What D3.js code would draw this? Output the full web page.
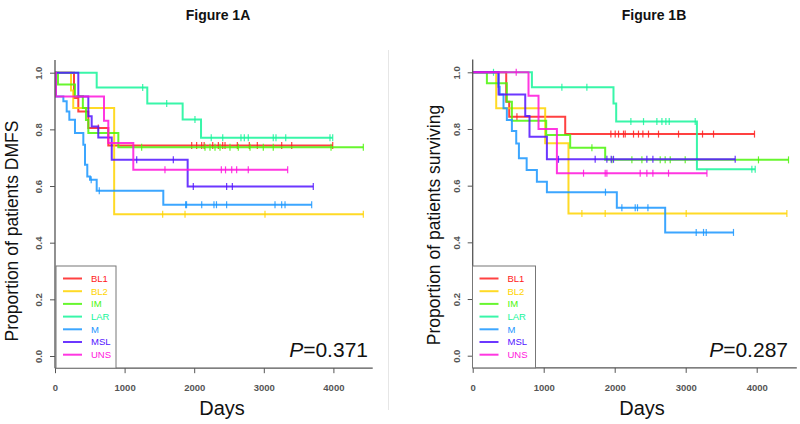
<!DOCTYPE html>
<html>
<head>
<meta charset="utf-8">
<script src="https://cdn.jsdelivr.net/npm/d3@7"></script>
<style>
  body { margin: 0; background: #fff; }
  svg { display: block; font-family: "Liberation Sans", Arial, sans-serif; }
</style>
</head>
<body>
<svg id="chart" width="800" height="424"></svg>
<script>
// subtypes and their colours (R rainbow(7))
const groups = ["BL1", "BL2", "IM", "LAR", "M", "MSL", "UNS"];
const colors = ["#ff2020", "#ffd400", "#4cf50a", "#16f59a", "#1a96ff", "#5214ff", "#ff14dc"];
const xTicks = [0, 1000, 2000, 3000, 4000];
const yTicks = [0, 0.2, 0.4, 0.6, 0.8, 1.0];

// Figure 1A - DMFS: [day, survival] steps and censored days
const aBL1 = [[0, 1], [273, 0.911], [335, 0.863], [479, 0.805], [766, 0.743]];
const aBL1Cens = [622, 1964, 2035, 2107, 2143, 2266, 2347, 2409, 2443, 2620, 2792, 2907, 3257, 3401, 3990];
const aBL2 = [[0, 1], [230, 0.9375], [262, 0.875], [850, 0.5]];
const aBL2Cens = [1547, 1868, 3017, 4430];
const aIM = [[0, 1], [43, 0.958], [287, 0.917], [400, 0.875], [445, 0.833], [479, 0.787], [910, 0.737]];
const aIMCens = [1245, 2155, 2227, 2299, 2371, 2514, 2634, 2802, 2993, 3136, 3966, 4430];
const aLAR = [[0, 1], [599, 0.948], [1326, 0.891], [1834, 0.835], [2098, 0.770]];
const aLARCens = [1260, 1605, 2011, 2245, 2410, 2672, 2720, 2777, 3136, 3175, 3315, 3951, 3990];
const aM = [[0, 1], [14, 0.916], [120, 0.899], [168, 0.863], [206, 0.834], [287, 0.787], [407, 0.746],
            [431, 0.675], [464, 0.634], [503, 0.622], [599, 0.583], [1556, 0.534]];
const aMCens = [520, 636, 1877, 1890, 2108, 2284, 2320, 2466, 3161, 3257, 3305, 3688];
const aMSL = [[0, 1], [335, 0.916], [479, 0.846], [527, 0.81], [622, 0.771], [815, 0.693], [1906, 0.598]];
const aMSLCens = [1174, 1700, 1987, 2466, 2548, 3711];
const aUNS = [[0, 1], [14, 0.916], [704, 0.83], [766, 0.752], [1125, 0.657]];
const aUNSCens = [1580, 2390, 2450, 2539, 2610, 2777, 3343];

// Figure 1B - overall survival
const bBL1 = [[0, 1], [472, 0.896], [514, 0.843], [1303, 0.782]];
const bBL1Cens = [623, 1946, 2007, 2054, 2124, 2148, 2265, 2335, 2397, 2476, 2617, 2899, 3237, 3392, 3969];
const bBL2 = [[0, 1], [331, 0.873], [1021, 0.75], [1349, 0.502]];
const bBL2Cens = [1538, 1866, 3007, 4425];
const bIM = [[0, 1], [200, 0.961], [481, 0.896], [552, 0.829], [1035, 0.779], [1373, 0.734], [1866, 0.691]];
const bIMCens = [1679, 1961, 2242, 2383, 2641, 2711, 2782, 2993, 4025, 4448];
const bLAR = [[0, 1], [834, 0.947], [1983, 0.89], [2021, 0.826], [3158, 0.658]];
const bLARCens = [293, 1256, 1608, 2228, 2406, 2594, 2665, 2721, 2768, 3134, 3932, 3979];
const bM = [[0, 1], [363, 0.949], [380, 0.922], [434, 0.873], [481, 0.832], [552, 0.793], [613, 0.749],
            [651, 0.697], [760, 0.655], [904, 0.614], [1045, 0.577], [2030, 0.522], [2711, 0.435]];
const bMCens = [1870, 2101, 2289, 2321, 2468, 3148, 3251, 3289, 3673];
const bMSL = [[0, 1], [364, 0.922], [740, 0.846], [800, 0.773], [1045, 0.693]];
const bMSLCens = [1208, 1725, 1890, 1951, 1983, 2453, 2538, 3697];
const bUNS = [[0, 1], [786, 0.917], [927, 0.80], [1186, 0.644]];
const bUNSCens = [613, 1561, 1866, 1890, 2359, 2453, 2538, 2758, 3299];

const panels = [
  { title: "Figure 1A", titleX: 218, ylab: "Proportion of patients DMFS", pval: "0.371",
    xr: [55, 333.4], yr: [356, 72.7], ylabX: 12, ylabY: 231, daysX: 222, pX: 368,
    leg: { x: 56, w: 60, top: 266 },
    curves: [aBL1, aBL2, aIM, aLAR, aM, aMSL, aUNS],
    cens: [aBL1Cens, aBL2Cens, aIMCens, aLARCens, aMCens, aMSLCens, aUNSCens] },
  { title: "Figure 1B", titleX: 654, ylab: "Proportion of patients surviving", pval: "0.287",
    xr: [472.7, 756.7], yr: [355.7, 72.3], ylabX: 434, ylabY: 225, daysX: 642, pX: 788,
    leg: { x: 472.5, w: 63, top: 266 },
    curves: [bBL1, bBL2, bIM, bLAR, bM, bMSL, bUNS],
    cens: [bBL1Cens, bBL2Cens, bIMCens, bLARCens, bMCens, bMSLCens, bUNSCens] }
];

const svg = d3.select("#chart");

// faint divider between the two figure images
svg.append("line").attr("x1", 388.5).attr("x2", 388.5).attr("y1", 50).attr("y2", 410)
   .attr("stroke", "#e6e6e6").attr("stroke-width", 1);

function survAt(steps, t) {
  let s = steps[0][1];
  for (const d of steps) { if (d[0] <= t) s = d[1]; }
  return s;
}

panels.forEach(p => {
  const x = d3.scaleLinear().domain([0, 4000]).range(p.xr);
  const y = d3.scaleLinear().domain([0, 1]).range(p.yr);
  const g = svg.append("g");

  g.append("text").attr("x", p.titleX).attr("y", 20).attr("text-anchor", "middle")
   .style("font-family", "'Liberation Sans Narrow', 'Arial Narrow', 'Liberation Sans', sans-serif")
   .style("font-weight", "bold").style("font-size", "14px").attr("fill", "#111").text(p.title);

  // curves
  const line = d3.line().x(d => x(d[0])).y(d => y(d[1])).curve(d3.curveStepAfter);
  p.curves.forEach((steps, i) => {
    const end = Math.max(steps[steps.length - 1][0], d3.max(p.cens[i]));
    const pts = steps.concat([[end, steps[steps.length - 1][1]]]);
    g.append("path").attr("d", line(pts)).attr("fill", "none")
     .attr("stroke", colors[i]).attr("stroke-width", 2).attr("stroke-opacity", 0.85);
    g.selectAll(null).data(p.cens[i]).join("line")
     .attr("x1", d => x(d)).attr("x2", d => x(d))
     .attr("y1", d => y(survAt(steps, d)) - 3.5).attr("y2", d => y(survAt(steps, d)) + 3.5)
     .attr("stroke", colors[i]).attr("stroke-width", 1.2).attr("stroke-opacity", 0.85);
  });

  // axis lines (L shape)
  g.append("line").attr("x1", x(0)).attr("x2", x(0)).attr("y1", y(1.045)).attr("y2", y(-0.043))
   .attr("stroke", "#555").attr("stroke-width", 1.3);
  g.append("line").attr("x1", x(0)).attr("x2", x(4565)).attr("y1", y(-0.043)).attr("y2", y(-0.043))
   .attr("stroke", "#555").attr("stroke-width", 1.3);

  const yAxis = g.append("g").attr("transform", `translate(${x(0)},0)`)
    .call(d3.axisLeft(y).tickValues(yTicks).tickSize(5).tickFormat(d3.format(".1f")));
  yAxis.select(".domain").remove();
  yAxis.selectAll("line").attr("stroke", "#555");
  yAxis.selectAll("text").attr("transform", "rotate(-90)").attr("x", 0).attr("y", -13)
    .attr("dy", 0).attr("text-anchor", "middle");

  const xAxis = g.append("g").attr("transform", `translate(0,${y(-0.043)})`)
    .call(d3.axisBottom(x).tickValues(xTicks).tickSize(5).tickPadding(11).tickFormat(d3.format("d")));
  xAxis.select(".domain").remove();
  xAxis.selectAll("line").attr("stroke", "#555");

  g.selectAll(".tick text").attr("fill", "#555").style("font-size", "9.5px")
   .style("font-weight", "bold").style("font-family", "'Liberation Sans', Arial, sans-serif");

  // axis titles
  g.append("text").attr("transform", `translate(${p.ylabX},${p.ylabY}) rotate(-90)`)
   .attr("text-anchor", "middle").attr("dy", "0.35em").style("font-size", "17.5px")
   .attr("fill", "#111").text(p.ylab);
  g.append("text").attr("x", p.daysX).attr("y", 415).attr("text-anchor", "middle")
   .style("font-size", "20px").attr("fill", "#111").text("Days");

  const pt = g.append("text").attr("x", p.pX).attr("y", 356.5).attr("text-anchor", "end")
   .style("font-size", "21px").attr("fill", "#111");
  pt.append("tspan").style("font-style", "italic").text("P");
  pt.append("tspan").text("=" + p.pval);

  // legend
  const lg = g.append("g");
  const bottom = y(-0.043);
  lg.append("rect").attr("x", p.leg.x).attr("y", p.leg.top).attr("width", p.leg.w)
   .attr("height", bottom - p.leg.top).attr("fill", "#fff").attr("stroke", "#777").attr("stroke-width", 1);
  groups.forEach((name, i) => {
    const ry = p.leg.top + 12.5 + i * 12.7;
    lg.append("line").attr("x1", p.leg.x + 7).attr("x2", p.leg.x + 26).attr("y1", ry).attr("y2", ry)
      .attr("stroke", colors[i]).attr("stroke-width", 2).attr("stroke-opacity", 0.85);
    lg.append("text").attr("x", p.leg.x + 35).attr("y", ry).attr("dy", "0.35em")
      .style("font-size", "9.5px").attr("fill", colors[i]).text(name);
  });
});
</script>
</body>
</html>
